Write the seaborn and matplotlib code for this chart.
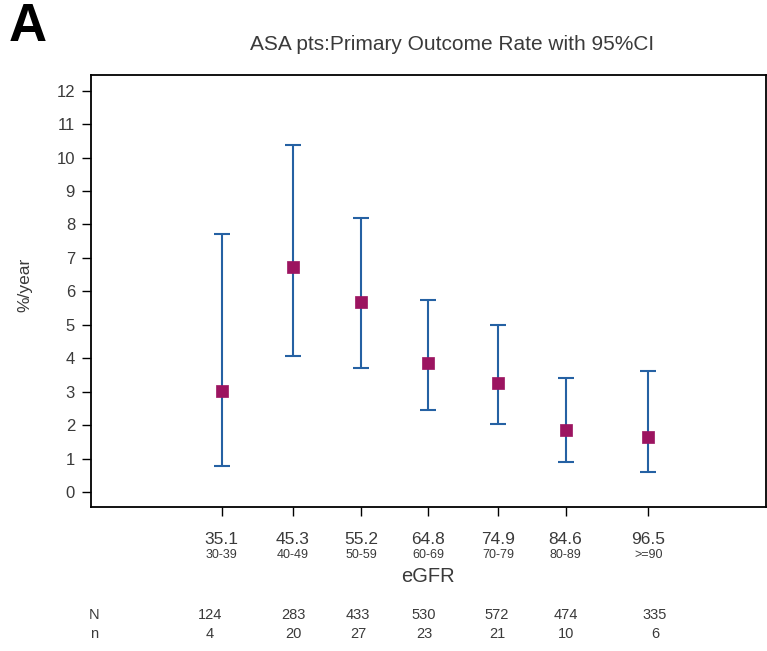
import matplotlib
matplotlib.use("Agg")
import matplotlib.pyplot as plt
import matplotlib.transforms as mtransforms
import numpy as np
import pandas as pd
import seaborn as sns

# eGFR group means and category ranges
egfr_mean = [35.1, 45.3, 55.2, 64.8, 74.9, 84.6, 96.5]
egfr_range = ["30-39", "40-49", "50-59", "60-69", "70-79", "80-89", ">=90"]

# primary outcome rate (%/year) with 95% CI
rate = [3.03, 6.72, 5.67, 3.87, 3.27, 1.86, 1.65]
ci_low = [0.78, 4.07, 3.71, 2.46, 2.02, 0.90, 0.60]
ci_high = [7.73, 10.38, 8.20, 5.75, 4.98, 3.42, 3.61]

# patients and events per group
n_patients = [124, 283, 433, 530, 572, 474, 335]
n_events = [4, 20, 27, 23, 21, 10, 6]

df = pd.DataFrame({"egfr": egfr_mean, "rate": rate, "lo": ci_low, "hi": ci_high})

sns.set_theme(style="ticks")
plt.rcParams["font.family"] = ["Liberation Sans", "DejaVu Sans"]

W, H = 767, 651
fig = plt.figure(figsize=(W / 100, H / 100), dpi=100)
ax = fig.add_axes([91 / W, 1 - 506.7 / H, (765.7 - 91) / W, (506.7 - 75) / H])

text_col = "#3a3a3a"
bar_col = "#2561a3"
pt_col = "#9c1460"

yerr = np.vstack([df["rate"] - df["lo"], df["hi"] - df["rate"]])
ax.errorbar(df["egfr"], df["rate"], yerr=yerr, fmt="none", ecolor=bar_col,
            elinewidth=1.5, capsize=6, capthick=1.5, zorder=2)
sns.scatterplot(data=df, x="egfr", y="rate", marker="s", s=85, color=pt_col,
                edgecolor=pt_col, linewidth=0.5, ax=ax, zorder=3)

ax.set_xlim(16.29, 113.4)
ax.set_ylim(-0.44, 12.47)
ax.set_yticks(range(0, 13))
ax.set_yticklabels([str(v) for v in range(0, 13)], fontsize=12, color=text_col)
ax.set_xticks(egfr_mean)
ax.set_xticklabels([])
ax.set_xlabel("")
ax.set_ylabel("")
for s in ax.spines.values():
    s.set_visible(True)
    s.set_color("black")
    s.set_linewidth(1.3)
ax.tick_params(axis="both", direction="out", length=6.5, width=1.0, color="black")
ax.tick_params(axis="y", pad=5)

# two-line x tick labels: group mean over range
trans = mtransforms.blended_transform_factory(ax.transData, fig.transFigure)
for x, lab in zip(egfr_mean, egfr_range):
    ax.text(x, 1 - 540 / H, f"{x:.1f}", transform=trans, ha="center", va="center",
            fontsize=12.5, color=text_col)
    ax.text(x, 1 - 555 / H, lab, transform=trans, ha="center", va="center",
            fontsize=9, color=text_col)

fig.text(428 / W, 1 - 576 / H, "eGFR", ha="center", va="center", fontsize=14.5,
         color=text_col)
fig.text(25 / W, 1 - 285 / H, "%/year", ha="center", va="center", rotation=90,
         fontsize=12.5, color=text_col)
fig.text(452 / W, 1 - 45 / H, "ASA pts:Primary Outcome Rate with 95%CI", ha="center",
         va="center", fontsize=15, color=text_col)
fig.text(9 / W, 1 - 27 / H, "A", ha="left", va="center", fontsize=38,
         fontweight="bold", color="black")

# counts table under the axis
col_x = [210, 293, 358, 424, 497, 566, 655]
narrow = ["Liberation Sans Narrow", "Liberation Sans", "DejaVu Sans"]
row_y = [615, 634]
for ry, head, vals in zip(row_y, ["N", "n"], [n_patients, n_events]):
    fig.text(94 / W, 1 - ry / H, head, ha="center", va="center", fontsize=10.5,
             color=text_col, family=narrow)
    for cx, v in zip(col_x, vals):
        fig.text(cx / W, 1 - ry / H, str(v), ha="center", va="center", fontsize=10.5,
                 color=text_col, family=narrow)

fig.savefig("out.png", dpi=100, facecolor="white")
